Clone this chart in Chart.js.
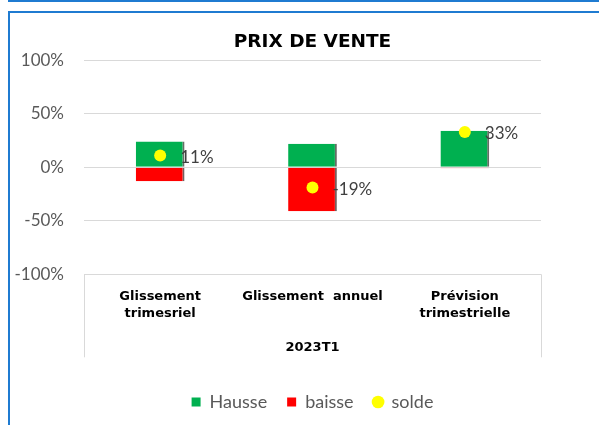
<!DOCTYPE html>
<html>
<head>
<meta charset="utf-8">
<script src="https://cdn.jsdelivr.net/npm/chart.js@4"></script>
<style>
  html, body { margin: 0; padding: 0; background: #fff; overflow: hidden; width: 599px; height: 425px; }
  .frame-top { position: absolute; left: 8px; top: -10px; width: 700px; height: 10px; border-left: 2px solid #1f7bd1; border-bottom: 2px solid #1f7bd1; }
  .frame { position: absolute; left: 8px; top: 11px; width: 700px; height: 500px; border-left: 2px solid #1f7bd1; border-top: 2px solid #1f7bd1; }
  #wrap { position: absolute; left: 0; top: 0; width: 625px; height: 425px; }
</style>
</head>
<body>
<div class="frame-top"></div>
<div class="frame"></div>
<div id="wrap"><canvas id="chart" width="625" height="425"></canvas></div>
<script>
// Données du graphique
const categories = [["Glissement", "trimesriel"], "Glissement  annuel", ["Prévision", "trimestrielle"]];
const periode = "2023T1";
const hausse = [24, 22, 34];
const baisse = [-13, -41, -1];
const solde = [11, -19, 33];
const yTicks = [-100, -50, 0, 50, 100];

// Étiquettes du solde à droite des points
const soldeLabels = {
    id: 'soldeLabels',
    afterDatasetsDraw(chart) {
        const ctx = chart.ctx;
        const meta = chart.getDatasetMeta(2);
        ctx.save();
        ctx.font = '17px Lato';
        ctx.fillStyle = '#404040';
        ctx.textAlign = 'left';
        ctx.textBaseline = 'middle';
        meta.data.forEach((pt, i) => {
            ctx.fillText(solde[i] + '%', pt.x + 20, pt.y + 2);
        });
        ctx.restore();
    }
};

// Cadre de l'axe des catégories
const categoryBox = {
    id: 'categoryBox',
    afterDraw(chart) {
        const a = chart.chartArea;
        const ctx = chart.ctx;
        ctx.save();
        ctx.strokeStyle = '#d9d9d9';
        ctx.lineWidth = 1;
        ctx.beginPath();
        ctx.moveTo(Math.round(a.left) + 0.5, a.bottom);
        ctx.lineTo(Math.round(a.left) + 0.5, a.bottom + 83);
        ctx.moveTo(Math.round(a.right) + 0.5, a.bottom);
        ctx.lineTo(Math.round(a.right) + 0.5, a.bottom + 83);
        ctx.stroke();
        ctx.restore();
    }
};

const ctx = document.getElementById('chart').getContext('2d');
new Chart(ctx, {
    type: 'bar',
    data: {
        labels: categories,
        datasets: [{
            label: 'Hausse',
            data: hausse,
            backgroundColor: '#00b050',
            borderColor: 'rgba(50,60,50,0.75)',
            borderWidth: { top: 0, left: 0, bottom: 0, right: 2 },
            borderSkipped: false,
            stack: 'hb',
            order: 2
        }, {
            label: 'baisse',
            data: baisse,
            backgroundColor: '#ff0000',
            borderColor: 'rgba(70,40,40,0.75)',
            borderWidth: { top: 0, left: 0, bottom: 0, right: 2 },
            borderSkipped: false,
            stack: 'hb',
            order: 2
        }, {
            type: 'line',
            label: 'solde',
            data: solde,
            showLine: false,
            pointRadius: 6,
            pointHoverRadius: 6,
            pointBackgroundColor: '#ffff00',
            pointBorderWidth: 0,
            backgroundColor: '#ffff00',
            borderColor: '#ffff00',
            stack: 'solde',
            order: 1
        }]
    },
    options: {
        responsive: false,
        animation: false,
        events: [],
        barPercentage: 1,
        categoryPercentage: 0.32,
        layout: { padding: { left: 0, right: 0, top: 0, bottom: 4 } },
        scales: {
            x: {
                stacked: true,
                grid: { display: false, drawTicks: false },
                border: { display: false },
                ticks: {
                    padding: 13.5,
                    maxRotation: 0,
                    autoSkip: false,
                    color: '#000',
                    font: { family: 'DejaVu Sans', weight: 'bold', size: 13, lineHeight: 1.3 }
                },
                title: {
                    display: true,
                    text: periode,
                    color: '#000',
                    font: { family: 'DejaVu Sans', weight: 'bold', size: 13, lineHeight: 1.3 },
                    padding: { top: 4.5, bottom: 16.5 }
                }
            },
            y: {
                stacked: true,
                min: -100,
                max: 100,
                afterFit(scale) { scale.width = 84; },
                afterBuildTicks(scale) { scale.ticks = yTicks.map(v => ({ value: v })); },
                grid: { color: '#d9d9d9', lineWidth: 1, drawTicks: false },
                border: { display: false },
                ticks: {
                    padding: 20,
                    color: '#595959',
                    font: { family: 'Lato', size: 17 },
                    callback: v => v + '%'
                }
            },
            // axe vide à droite pour garder la zone de tracé centrée
            yRight: {
                position: 'right',
                afterFit(scale) { scale.width = 84; },
                grid: { display: false },
                border: { display: false },
                ticks: { display: false }
            }
        },
        plugins: {
            title: {
                display: true,
                text: 'PRIX DE VENTE',
                color: '#000',
                font: { family: 'DejaVu Sans', weight: 'bold', size: 18.5, lineHeight: 1.2 },
                padding: { top: 31, bottom: 7 }
            },
            legend: {
                position: 'bottom',
                labels: {
                    usePointStyle: true,
                    boxHeight: 9,
                    boxWidth: 9,
                    padding: 20,
                    color: '#595959',
                    font: { family: 'Lato', size: 18 },
                    generateLabels(chart) {
                        const items = Chart.defaults.plugins.legend.labels.generateLabels(chart);
                        items.sort((a, b) => a.datasetIndex - b.datasetIndex);
                        items.forEach(it => {
                            it.pointStyle = it.datasetIndex < 2 ? 'rect' : 'circle';
                            it.lineWidth = 0;
                            it.strokeStyle = 'rgba(0,0,0,0)';
                        });
                        return items;
                    }
                }
            },
            tooltip: { enabled: false }
        }
    },
    plugins: [soldeLabels, categoryBox]
});
</script>
</body>
</html>
